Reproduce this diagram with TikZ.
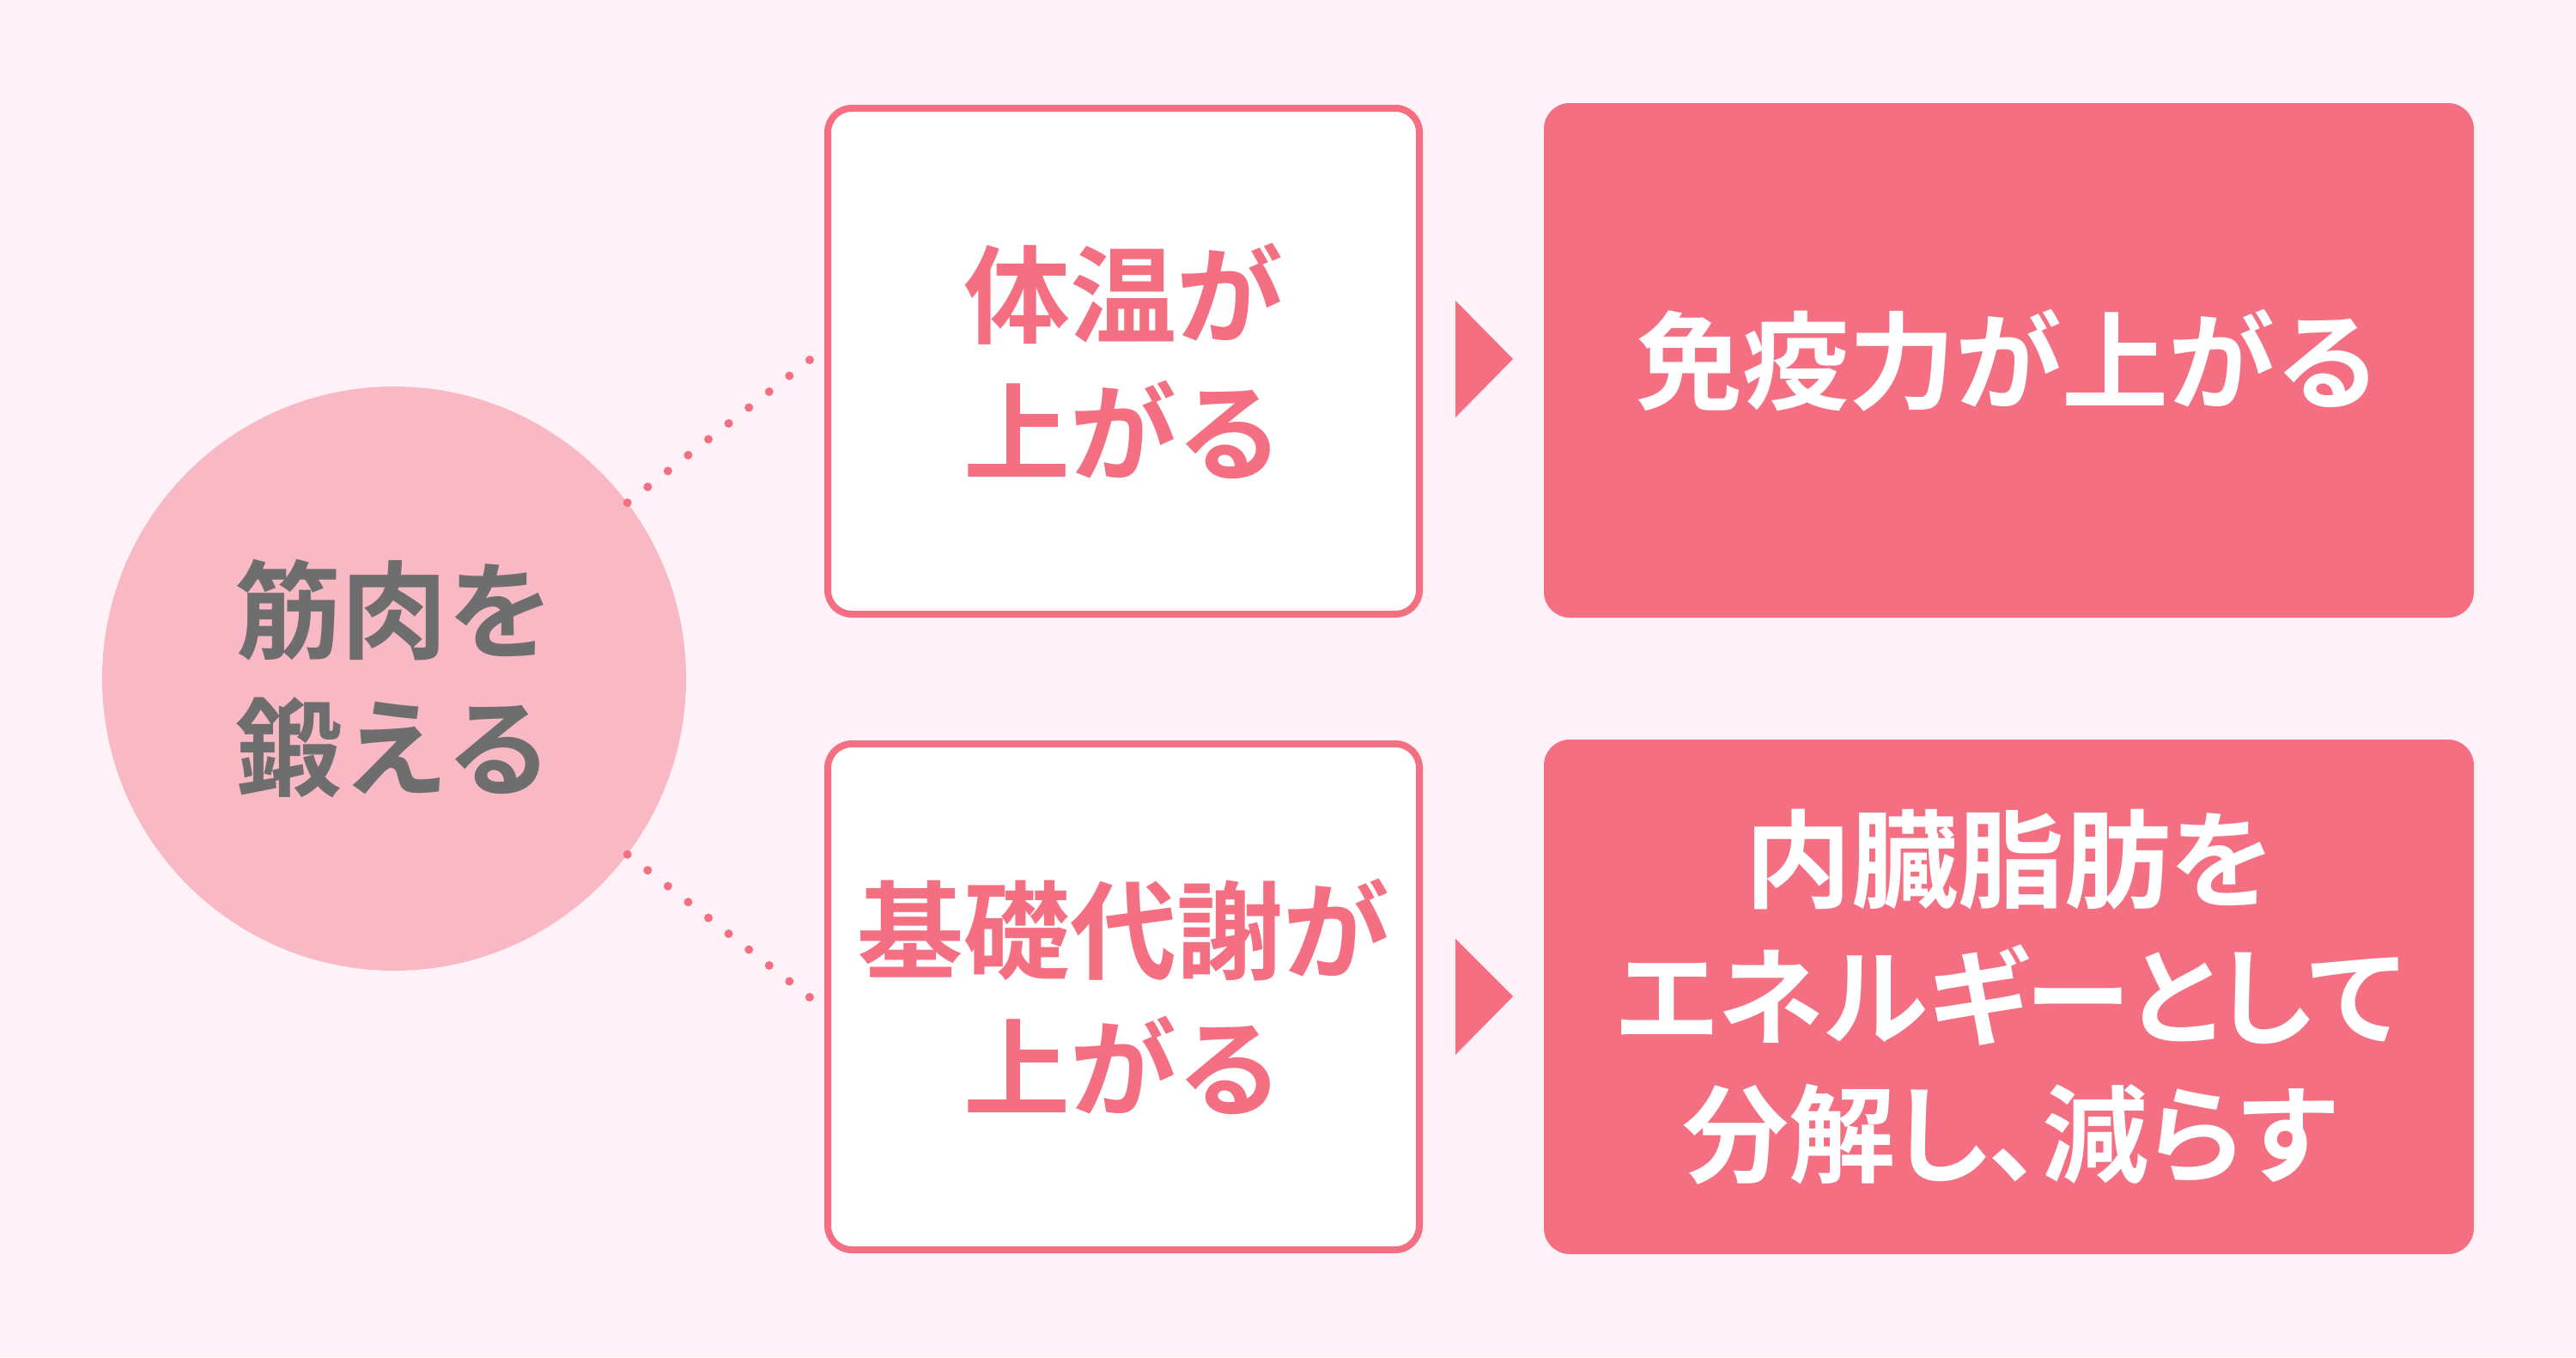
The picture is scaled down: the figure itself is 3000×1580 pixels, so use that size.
\documentclass[tikz,border=0pt]{standalone}
\usepackage{fontspec}
\newfontfamily\jp{Noto Sans CJK JP}[BoldFont={Noto Sans CJK JP Bold}]
\newfontfamily\jpp{Noto Sans CJK JP}[BoldFont={Noto Sans CJK JP Bold}, RawFeature=+palt]
\definecolor{bgpink}{HTML}{FEF1F7}
\definecolor{circpink}{HTML}{F9B9C4}
\definecolor{redpink}{HTML}{F46F82}
\definecolor{textgray}{HTML}{6E6E6E}
\begin{document}
\begin{tikzpicture}[x=1pt,y=-1pt,
  txt/.style={font=\jp\bfseries\fontsize{124}{160}\selectfont, align=center},
  whitebox/.style={draw=redpink, line width=8pt, fill=white, rounded corners=28pt,
    minimum width=689pt, minimum height=589pt, inner sep=0pt, text=redpink, txt},
  redbox/.style={fill=redpink, rounded corners=30pt,
    minimum width=1083pt, minimum height=599pt, inner sep=0pt, text=white, txt},
  dotline/.style={draw=redpink, line width=10pt, line cap=round, dash pattern=on 0pt off 29.95pt},
  arrowtri/.style={fill=redpink}
]
\fill[bgpink] (0,0) rectangle (3000,1580);
\useasboundingbox (0,0) rectangle (3000,1580);

\node[circle, fill=circpink, minimum size=680pt, inner sep=0pt, text=textgray, txt] (c) at (459,790) {筋肉を\\鍛える};

\node[whitebox] (b1) at (1308.5,420.5) {体温が\\上がる};
\node[whitebox] (b2) at (1308.5,1160.5) {基礎代謝が\\上がる};

\node[redbox] (r1) at (2339.5,419.5) {免疫力が上がる};
\node[redbox, font=\jpp\bfseries\fontsize{124}{160}\selectfont] (r2) at (2339.5,1160.5) {内臓脂肪を\\エネルギーとして\\分解し、減らす};

\coordinate (d1) at (943,419);
\coordinate (d2) at (943,1161);
\draw[dotline] (c.37.5) -- (d1);
\draw[dotline] (c.-37.5) -- (d2);

\fill[arrowtri] (1695,350) -- (1762,418) -- (1695,486) -- cycle;
\fill[arrowtri] (1695,1093) -- (1762,1160) -- (1695,1228) -- cycle;
\end{tikzpicture}
\end{document}
